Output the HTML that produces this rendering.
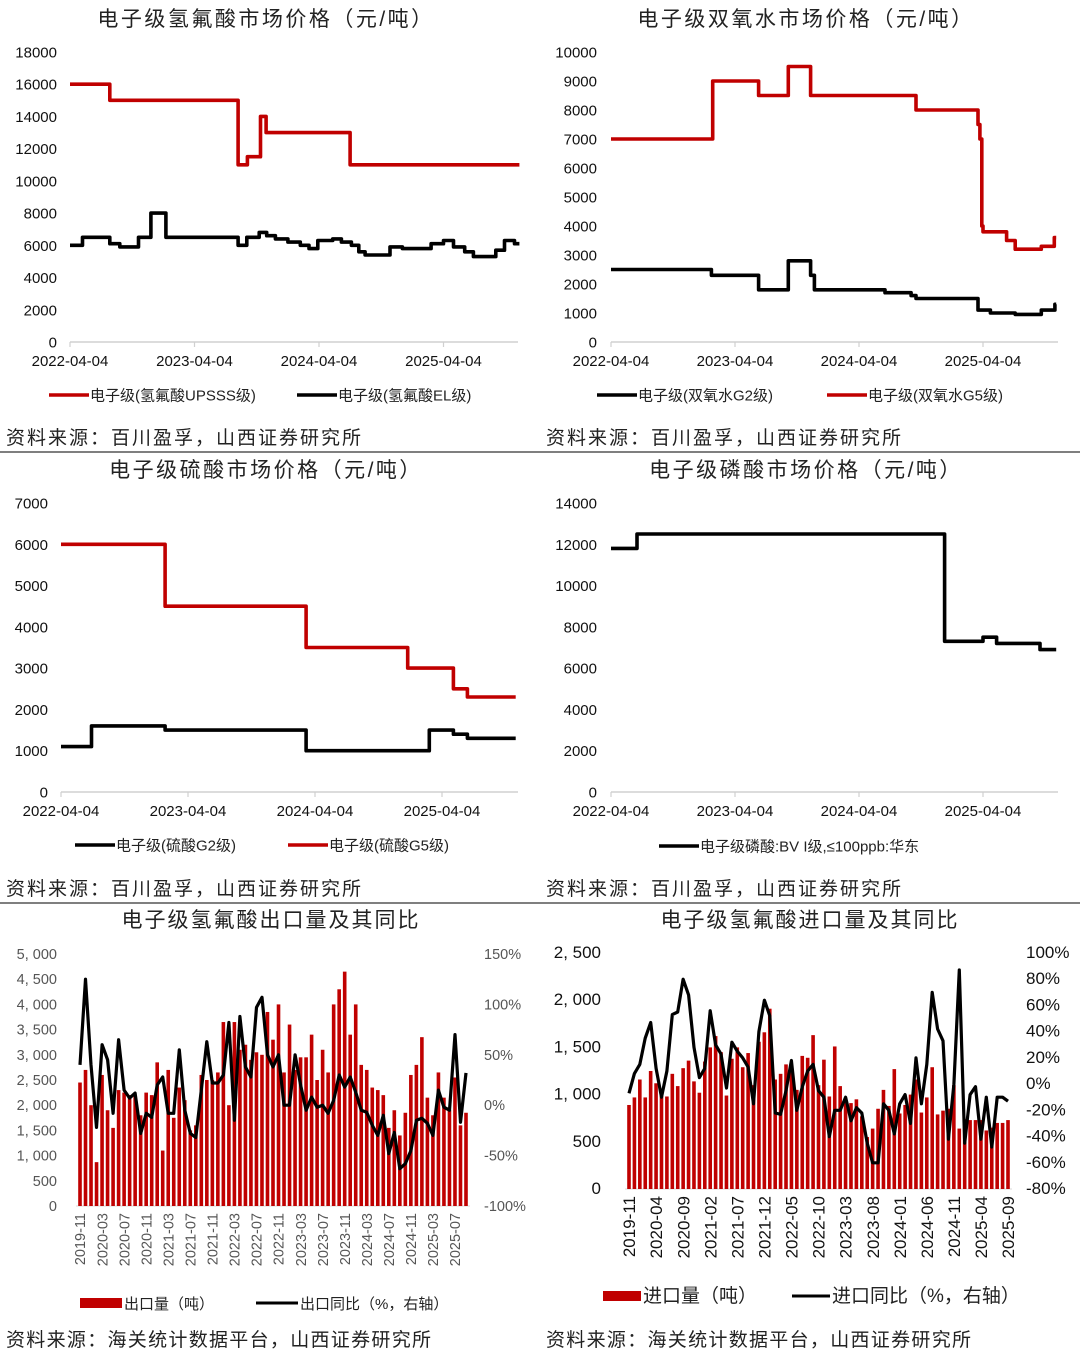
<!DOCTYPE html>
<html><head><meta charset="utf-8">
<style>
html,body{margin:0;padding:0;background:#fff;}
svg{display:block;font-family:"Liberation Sans","Noto Sans CJK SC",sans-serif;}
</style></head>
<body>
<svg id="root" width="1080" height="1355" viewBox="0 0 1080 1355" xmlns="http://www.w3.org/2000/svg">
<rect width="1080" height="1355" fill="#fff"/>
<line x1="0" y1="452" x2="1080" y2="452" stroke="#333" stroke-width="1.2"/>
<line x1="0" y1="903" x2="1080" y2="903" stroke="#333" stroke-width="1.2"/>
</svg>
<script>
// ===== Data: top-left HF prices (t = years since 2022-04-04) =====
const hfUpsssEnd = [0.32,1.35,1.425,1.53,1.575,2.25,3.61];
const hfUpsssVal = [16000,15000,11000,11500,14000,13000,11000];
const hfElEnd = [0.10,0.32,0.40,0.55,0.65,0.77,1.35,1.42,1.52,1.58,1.65,1.75,1.85,1.92,1.99,2.11,2.18,2.26,2.32,2.37,2.57,2.67,2.90,3.00,3.08,3.17,3.24,3.42,3.49,3.57,3.61];
const hfElVal = [6000,6500,6100,5900,6500,8000,6500,6000,6500,6800,6600,6400,6200,6000,5800,6300,6400,6200,6000,5600,5400,5900,5800,6100,6300,5900,5600,5300,5700,6300,6100];
// ===== top-right H2O2 =====
const h2o2G5End = [0.82,1.19,1.43,1.61,2.46,2.96,2.975,2.99,3.0,3.19,3.26,3.47,3.575,3.59];
const h2o2G5Val = [7000,9000,8500,9500,8500,8000,7500,7000,4000,3800,3500,3200,3300,3600];
const h2o2G2End = [0.81,1.19,1.43,1.61,1.64,2.21,2.42,2.46,2.96,3.06,3.26,3.47,3.58,3.59];
const h2o2G2Val = [2500,2300,1800,2800,2300,1800,1700,1600,1500,1100,1000,950,1100,1300];
// ===== middle-left H2SO4 =====
const h2so4G5End = [0.82,1.93,2.73,3.09,3.20,3.58];
const h2so4G5Val = [6000,4500,3500,3000,2500,2300];
const h2so4G2End = [0.24,0.82,1.93,2.90,3.09,3.20,3.58];
const h2so4G2Val = [1100,1600,1500,1000,1500,1400,1300];
// ===== middle-right H3PO4 =====
const h3po4End = [0.21,2.69,3.00,3.11,3.46,3.59];
const h3po4Val = [11800,12500,7300,7500,7200,6900];
const dateTicks = ["2022-04-04","2023-04-04","2024-04-04","2025-04-04"];
// ===== bottom-left export =====
const exportVol = [2450,2700,2000,870,2600,1900,1550,2300,2250,2200,2200,1800,2250,2200,2850,1100,2700,1750,2350,2100,1500,1600,2600,2500,2500,2650,3650,2000,3650,3100,3200,2900,3050,3000,3850,3300,4000,2650,3600,2700,2950,2950,3400,2500,3100,2650,4000,4300,4650,3400,4000,2800,2700,2350,2300,2200,1550,1900,1400,1850,2600,2800,3350,2150,1800,2650,2150,1900,2550,1600,1850];
const exportYoy = [40,125,40,-22,60,45,-8,65,15,7,12,-28,-8,-12,20,28,-8,-8,55,-5,-28,-32,15,63,22,22,30,82,-15,88,38,28,97,107,50,38,50,0,0,50,20,-5,8,-2,0,-8,5,30,18,28,13,-5,-7,-20,-30,-10,-48,-27,-63,-58,-45,-15,-13,-18,-30,15,-2,-5,70,-17,32];
// ===== bottom-right import =====
const importVol = [890,970,1160,970,1250,1120,1000,980,1220,1090,1280,1360,1140,1020,1350,1500,1620,1450,990,1380,1500,1290,1440,1100,1560,1660,1910,1160,1220,1320,1310,1050,1410,1390,1630,1100,1370,980,1510,1090,950,910,950,770,550,640,850,1050,880,1270,800,890,1000,1160,810,970,1290,790,830,850,1100,640,740,730,730,730,620,650,700,700,730];
const importYoy = [-7,8,15,35,47,12,-10,10,53,55,80,68,28,5,12,56,30,23,-3,32,25,20,13,-15,40,64,52,-22,-23,-5,18,-20,-2,10,15,-5,-10,-40,-20,-20,-10,-28,-18,-22,-45,-60,-60,-15,-20,-38,-15,-8,-30,20,-15,15,70,42,33,-42,0,87,-45,-8,-2,-42,-10,-48,-10,-10,-13];
const months = (function(){const a=[];let y=2019,m=11;for(let i=0;i<71;i++){a.push(y+"-"+String(m).padStart(2,"0"));m++;if(m>12){m=1;y++;}}return a;})();

const NS="http://www.w3.org/2000/svg";
const root=document.getElementById('root');
function mk(tag,attrs,parent){const e=document.createElementNS(NS,tag);for(const k in attrs)e.setAttribute(k,attrs[k]);(parent||root).appendChild(e);return e;}
function txt(s,attrs,parent){const e=mk('text',attrs,parent);e.textContent=s;return e;}
const RED="#c00000";

function stepChart(o){
  const g=mk('g',{});
  
  
  const xs=t=>o.x0+t*o.pxYear;
  const ys=v=>o.y0-(v/o.max)*(o.y0-o.yTop);
  const t1=txt(o.title,{x:o.titleX,y:o.titleY,'font-size':21,'text-anchor':'middle',fill:'#222','letter-spacing':'2.5'},g);
  
  
  for(let v=0;v<=o.max;v+=o.step){
    const l=txt(String(v),{x:o.labelX,y:ys(v)+5.5,'font-size':15,'text-anchor':'end',fill:'#111'},g);
    
    
  }
  mk('line',{x1:o.x0,y1:o.y0,x2:o.xEnd,y2:o.y0,stroke:'#d0d0d0','stroke-width':1.5},g);
  dateTicks.forEach((d,i)=>{
    mk('line',{x1:xs(i),y1:o.y0,x2:xs(i),y2:o.y0+5,stroke:'#d0d0d0','stroke-width':1.2},g);
    const l=txt(d,{x:xs(i),y:o.y0+24,'font-size':15,'text-anchor':'middle',fill:'#111'},g);
    
    
  });
  o.series.forEach(s=>{
    let p="",prev=0;
    s.end.forEach((e,i)=>{
      const y=ys(s.val[i]);
      p+=(i===0?"M":"L")+xs(prev).toFixed(1)+","+y.toFixed(1)+"L"+xs(e).toFixed(1)+","+y.toFixed(1);
      prev=e;
    });
    const pa=mk('path',{d:p,fill:'none',stroke:s.color,'stroke-width':3.6,'stroke-linejoin':'round'},g);
    
    
  });
  o.legend.forEach(L=>{
    const lg=mk('g',{},g);
    
    
    mk('line',{x1:L.x,y1:o.legendY,x2:L.x+40,y2:o.legendY,stroke:L.color,'stroke-width':3.5},lg);
    txt(L.label,{x:L.x+41,y:o.legendY+5.5,'font-size':15,fill:'#222'},lg);
  });
  const s=txt(o.source,{x:o.srcX,y:o.srcY,'font-size':19,fill:'#222','letter-spacing':'2'},g);
  
  
}

stepChart({name:'hf-price-chart',title:'电子级氢氟酸市场价格（元/吨）',titleX:266,titleY:26,x0:70,pxYear:124.5,xEnd:518,y0:342,yTop:52,max:18000,step:2000,labelX:57,
  series:[{end:hfUpsssEnd,val:hfUpsssVal,color:RED,sname:'upsss-line'},{end:hfElEnd,val:hfElVal,color:'#000',sname:'el-line'}],
  legendY:395,legend:[{x:49,color:RED,label:'电子级(氢氟酸UPSSS级)'},{x:297,color:'#000',label:'电子级(氢氟酸EL级)'}],
  source:'资料来源：百川盈孚，山西证券研究所',srcX:6,srcY:444});
stepChart({name:'h2o2-price-chart',title:'电子级双氧水市场价格（元/吨）',titleX:806,titleY:26,x0:611,pxYear:124,xEnd:1058,y0:342,yTop:52,max:10000,step:1000,labelX:597,
  series:[{end:h2o2G5End,val:h2o2G5Val,color:RED,sname:'g5-line'},{end:h2o2G2End,val:h2o2G2Val,color:'#000',sname:'g2-line'}],
  legendY:395,legend:[{x:597,color:'#000',label:'电子级(双氧水G2级)'},{x:827,color:RED,label:'电子级(双氧水G5级)'}],
  source:'资料来源：百川盈孚，山西证券研究所',srcX:546,srcY:444});
stepChart({name:'h2so4-price-chart',title:'电子级硫酸市场价格（元/吨）',titleX:266,titleY:477,x0:61,pxYear:127,xEnd:518,y0:792,yTop:503,max:7000,step:1000,labelX:48,
  series:[{end:h2so4G5End,val:h2so4G5Val,color:RED,sname:'g5-line'},{end:h2so4G2End,val:h2so4G2Val,color:'#000',sname:'g2-line'}],
  legendY:845,legend:[{x:75,color:'#000',label:'电子级(硫酸G2级)'},{x:288,color:RED,label:'电子级(硫酸G5级)'}],
  source:'资料来源：百川盈孚，山西证券研究所',srcX:6,srcY:895});
stepChart({name:'h3po4-price-chart',title:'电子级磷酸市场价格（元/吨）',titleX:806,titleY:477,x0:611,pxYear:124,xEnd:1058,y0:792,yTop:503,max:14000,step:2000,labelX:597,
  series:[{end:h3po4End,val:h3po4Val,color:'#000',sname:'bv1-line'}],
  legendY:846,legend:[{x:659,color:'#000',label:'电子级磷酸:BV I级,≤100ppb:华东'}],
  source:'资料来源：百川盈孚，山西证券研究所',srcX:546,srcY:895});

function barLine(o){
  const g=mk('g',{});
  
  
  const n=o.vol.length;
  const xs=i=>o.xFirst+i*(o.xLast-o.xFirst)/(n-1);
  const yl=v=>o.y0-(v/o.lmax)*(o.y0-o.yTop);
  const yr=v=>o.y0-((v-o.rmin)/(o.rmax-o.rmin))*(o.y0-o.yTop);
  const t1=txt(o.title,{x:o.titleX,y:927,'font-size':21,'text-anchor':'middle',fill:'#222','letter-spacing':'2'},g);
  
  
  for(let v=0;v<=o.lmax;v+=o.lstep){
    const l=txt(o.fmtL(v),{x:o.lx,y:yl(v)+5,'font-size':o.fs,'text-anchor':'end',fill:o.tc},g);
    
    
  }
  for(let v=o.rmin;v<=o.rmax+0.01;v+=o.rstep){
    const l=txt(v+'%',{x:o.rx,y:yr(v)+5,'font-size':o.fs,'text-anchor':'start',fill:o.tc},g);
    
    
  }
  mk('line',{x1:o.xFirst-4,y1:o.y0,x2:o.xLast+4,y2:o.y0,stroke:'#d8d8d8','stroke-width':1},g);
  o.vol.forEach((v,i)=>{
    const b=mk('rect',{x:xs(i)-1.8,y:yl(v),width:3.6,height:o.y0-yl(v),fill:RED},g);
    
    
  });
  let p="";
  o.yoy.forEach((v,i)=>{p+=(i?"L":"M")+xs(i).toFixed(1)+","+yr(v).toFixed(1);});
  const pa=mk('path',{d:p,fill:'none',stroke:'#000','stroke-width':3.2,'stroke-linejoin':'round'},g);
  
  
  for(let i=0;i<n;i+=o.every){
    const x=xs(i);
    const l=txt(months[i],{x:x+o.fs*0.36,y:o.y0+7,'font-size':o.fs,'text-anchor':'end',fill:o.tc,transform:'rotate(-90 '+(x+o.fs*0.36)+' '+(o.y0+7)+')'},g);
    
    
  }
  const lg1=mk('g',{},g);
  
  
  mk('rect',{x:o.leg1x,y:o.legY-5,width:o.legW,height:10,fill:RED},lg1);
  txt(o.leg1,{x:o.leg1x+o.legW+2,y:o.legY+6,'font-size':o.legFs,fill:'#222'},lg1);
  const lg2=mk('g',{},g);
  
  
  mk('line',{x1:o.leg2x,y1:o.legY,x2:o.leg2x+o.legW,y2:o.legY,stroke:'#000','stroke-width':3},lg2);
  txt(o.leg2,{x:o.leg2x+o.legW+2,y:o.legY+6,'font-size':o.legFs,fill:'#222'},lg2);
  const s=txt(o.source,{x:o.srcX,y:1346,'font-size':19,fill:'#222','letter-spacing':'1.3'},g);
  
  
}
barLine({name:'hf-export-chart',title:'电子级氢氟酸出口量及其同比',titleX:271,vol:exportVol,yoy:exportYoy,xFirst:80,xLast:466,y0:1206,yTop:954,
  lmax:5000,lstep:500,fmtL:v=>v>=1000?Math.floor(v/1000)+', '+String(v%1000).padStart(3,'0'):String(v),rmin:-100,rmax:150,rstep:50,
  lx:57,rx:484,fs:14.5,tc:'#555',every:4,legY:1303,leg1x:80,leg2x:256,legW:42,legFs:15,leg1:'出口量（吨）',leg2:'出口同比（%，右轴）',
  source:'资料来源：海关统计数据平台，山西证券研究所',srcX:6});
barLine({name:'hf-import-chart',title:'电子级氢氟酸进口量及其同比',titleX:810,vol:importVol,yoy:importYoy,xFirst:629,xLast:1008,y0:1189,yTop:953,
  lmax:2500,lstep:500,fmtL:v=>v>=1000?Math.floor(v/1000)+', '+String(v%1000).padStart(3,'0'):String(v),rmin:-80,rmax:100,rstep:20,
  lx:601,rx:1026,fs:17,tc:'#111',every:5,legY:1296,leg1x:603,leg2x:792,legW:38,legFs:19,leg1:'进口量（吨）',leg2:'进口同比（%，右轴）',
  source:'资料来源：海关统计数据平台，山西证券研究所',srcX:546});
</script>
</body></html>
